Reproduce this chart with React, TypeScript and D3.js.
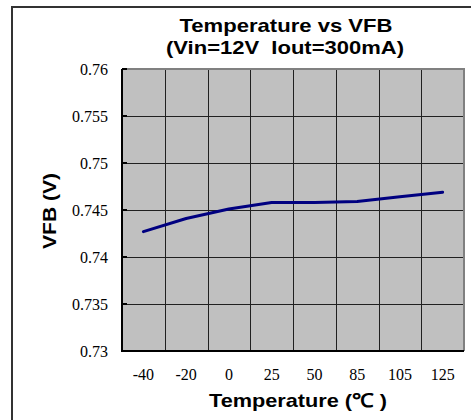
import React, { useEffect, useRef } from 'react';
import * as d3 from 'd3';

const temps = ['-40', '-20', '0', '25', '50', '85', '105', '125'];
const vfb = [0.7427, 0.7441, 0.7451, 0.7458, 0.7458, 0.7459, 0.7464, 0.7469];
const yTicks = [0.73, 0.735, 0.74, 0.745, 0.75, 0.755, 0.76];
const yTickLabels = ['0.73', '0.735', '0.74', '0.745', '0.75', '0.755', '0.76'];

export default function App() {
  const svgRef = useRef<SVGSVGElement>(null);
  const width = 471;
  const height = 420;

  useEffect(() => {
    const svg = d3.select(svgRef.current);
    svg.selectAll('*').remove();

    const left = 122, right = 464, top = 69, bottom = 351;

    // scales
    const x = d3.scaleBand().domain(temps).range([left, right]).padding(0);
    const y = d3.scaleLinear().domain([0.73, 0.76]).range([bottom, top]);

    // outer frame
    svg.append('rect')
      .attr('x', 12).attr('y', 7)
      .attr('width', 480).attr('height', 430)
      .attr('fill', 'white')
      .attr('stroke', '#333')
      .attr('stroke-width', 2);

    // plot background
    svg.append('rect')
      .attr('x', left).attr('y', top)
      .attr('width', right - left).attr('height', bottom - top)
      .attr('fill', '#c0c0c0');

    // grid
    svg.append('g').selectAll('line')
      .data(yTicks.slice(1, -1))
      .enter().append('line')
      .attr('x1', left).attr('x2', right)
      .attr('y1', d => Math.round(y(d)) + 0.5).attr('y2', d => Math.round(y(d)) + 0.5)
      .attr('stroke', '#202020').attr('stroke-width', 1);

    svg.append('g').selectAll('line')
      .data(temps.slice(1))
      .enter().append('line')
      .attr('x1', d => Math.round(x(d)!) + 0.5).attr('x2', d => Math.round(x(d)!) + 0.5)
      .attr('y1', top).attr('y2', bottom)
      .attr('stroke', '#202020').attr('stroke-width', 1);

    // top/right edges (grey)
    svg.append('path')
      .attr('d', `M${left},${top}H${right}V${bottom}`)
      .attr('fill', 'none').attr('stroke', '#808080').attr('stroke-width', 2);

    // left/bottom axis lines
    svg.append('path')
      .attr('d', `M${left},${top}V${bottom}H${right}`)
      .attr('fill', 'none').attr('stroke', '#000').attr('stroke-width', 2);

    // y ticks (inside)
    svg.append('g').selectAll('line')
      .data(yTicks)
      .enter().append('line')
      .attr('x1', left).attr('x2', left + 5)
      .attr('y1', d => y(d)).attr('y2', d => y(d))
      .attr('stroke', '#000').attr('stroke-width', 2);

    // y tick labels
    svg.append('g').selectAll('text')
      .data(yTicks)
      .enter().append('text')
      .text((d, i) => yTickLabels[i])
      .attr('x', 108)
      .attr('y', d => y(d))
      .attr('dy', '0.35em')
      .attr('text-anchor', 'end')
      .attr('font-family', '"Liberation Serif", serif')
      .attr('font-size', 16)
      .attr('fill', '#000');

    // x tick labels
    svg.append('g').selectAll('text')
      .data(temps)
      .enter().append('text')
      .text(d => d)
      .attr('x', d => x(d)! + x.bandwidth() / 2)
      .attr('y', 380)
      .attr('text-anchor', 'middle')
      .attr('font-family', '"Liberation Serif", serif')
      .attr('font-size', 16)
      .attr('fill', '#000');

    // line
    const line = d3.line<number>()
      .x((d, i) => x(temps[i])! + x.bandwidth() / 2)
      .y(d => y(d));

    svg.append('path')
      .datum(vfb)
      .attr('d', line)
      .attr('fill', 'none')
      .attr('stroke', '#000080')
      .attr('stroke-width', 3)
      .attr('stroke-linecap', 'round')
      .attr('stroke-linejoin', 'round');

    // titles
    const bold = '"Liberation Sans", Arial, sans-serif';
    svg.append('text')
      .text('Temperature vs VFB')
      .attr('x', 286).attr('y', 32)
      .attr('text-anchor', 'middle')
      .attr('font-family', bold).attr('font-weight', 'bold').attr('font-size', 19)
      .attr('textLength', 213).attr('lengthAdjust', 'spacingAndGlyphs');

    svg.append('text')
      .text('(Vin=12V  Iout=300mA)')
      .attr('x', 285).attr('y', 54)
      .attr('text-anchor', 'middle')
      .attr('font-family', bold).attr('font-weight', 'bold').attr('font-size', 19)
      .attr('textLength', 238).attr('lengthAdjust', 'spacingAndGlyphs')
      .style('white-space', 'pre');

    svg.append('text')
      .text('Temperature (℃ )')
      .attr('x', 298).attr('y', 407)
      .attr('text-anchor', 'middle')
      .attr('font-family', bold).attr('font-weight', 'bold').attr('font-size', 19)
      .attr('textLength', 178).attr('lengthAdjust', 'spacingAndGlyphs')
      .style('white-space', 'pre');

    svg.append('text')
      .text('VFB (V)')
      .attr('transform', `translate(56, ${(top + bottom) / 2 + 1}) rotate(-90)`)
      .attr('text-anchor', 'middle')
      .attr('font-family', bold).attr('font-weight', 'bold').attr('font-size', 19)
      .attr('textLength', 76).attr('lengthAdjust', 'spacingAndGlyphs')
      .attr('fill', '#000');
  }, []);

  return (
    <svg ref={svgRef} width={width} height={height}
      style={{ position: 'absolute', left: 0, top: 0, display: 'block' }} />
  );
}
